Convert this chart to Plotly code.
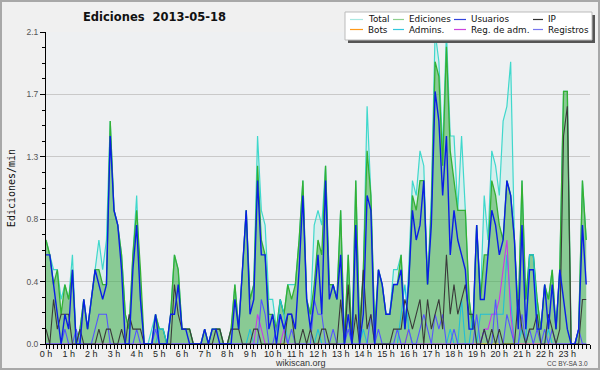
import plotly.graph_objects as go

# ---- data (edits per minute, 10-minute bins, 2013-05-18) ----
hours = [i / 6 for i in range(144)]
hour_ticks = list(range(24))
hour_labels = [f"{h} h" for h in hour_ticks]

total = [
    0.7,0.6,0.5,0.5,0.3,0.4,0.3,0.6,0.0,0.1,
    0.3,0.1,0.3,0.5,0.7,0.5,0.7,1.5,0.9,0.8,
    0.6,0.2,0.1,0.6,1.0,0.3,0.0,0.0,0.1,0.2,
    0.1,0.1,0.0,0.2,0.6,0.5,0.1,0.1,0.1,0.0,
    0.0,0.0,0.1,0.0,0.1,0.1,0.1,0.0,0.0,0.1,
    0.4,0.1,0.5,0.9,0.3,0.4,1.4,0.9,0.8,0.3,
    0.3,0.1,0.3,0.2,0.4,0.4,0.4,0.7,1.1,0.3,
    0.2,0.8,0.9,0.8,1.2,0.4,0.4,0.3,0.9,0.0,
    0.6,0.0,1.1,0.1,0.5,1.6,1.0,0.1,0.5,0.4,
    0.2,0.2,0.5,0.5,0.6,0.1,0.5,1.1,1.0,1.3,
    1.2,0.4,1.0,2.1,1.9,1.3,2.1,1.4,1.4,0.9,
    1.4,0.9,0.3,0.1,0.8,0.3,1.0,0.7,1.3,1.2,
    1.0,1.5,1.6,1.9,0.7,0.2,1.1,0.3,0.6,0.6,
    0.3,0.1,0.4,0.3,0.5,0.1,0.5,1.7,1.7,0.0,
    0.0,0.1,1.1,0.7]

ediciones = [
    0.7,0.6,0.4,0.5,0.2,0.4,0.3,0.5,0.0,0.1,
    0.3,0.1,0.3,0.5,0.5,0.4,0.4,1.5,0.9,0.8,
    0.6,0.2,0.1,0.6,0.9,0.5,0.0,0.0,0.0,0.2,
    0.1,0.1,0.0,0.2,0.6,0.5,0.1,0.1,0.1,0.0,
    0.0,0.0,0.1,0.0,0.1,0.1,0.1,0.0,0.0,0.1,
    0.4,0.1,0.5,0.9,0.3,0.4,1.2,0.7,0.6,0.2,
    0.2,0.1,0.3,0.2,0.4,0.3,0.4,0.7,1.1,0.3,
    0.2,0.4,0.7,0.6,1.2,0.4,0.4,0.3,0.9,0.0,
    0.6,0.0,1.1,0.1,0.5,1.3,1.0,0.1,0.5,0.4,
    0.2,0.2,0.4,0.4,0.6,0.1,0.4,1.0,0.9,1.1,
    1.1,0.4,0.9,1.9,1.8,1.2,2.0,1.3,1.1,0.9,
    0.9,0.9,0.3,0.1,0.8,0.3,0.6,0.6,1.1,1.0,
    0.8,0.7,1.1,1.0,0.7,0.2,1.1,0.3,0.6,0.6,
    0.3,0.1,0.4,0.3,0.5,0.1,0.5,1.7,1.7,0.0,
    0.0,0.1,1.1,0.7]

usuarios = [
    0.6,0.6,0.4,0.2,0.0,0.2,0.1,0.5,0.0,0.0,
    0.3,0.1,0.3,0.5,0.4,0.3,0.4,1.4,0.9,0.8,
    0.5,0.0,0.0,0.5,0.8,0.3,0.0,0.0,0.0,0.2,
    0.0,0.0,0.0,0.2,0.2,0.4,0.1,0.1,0.0,0.0,
    0.0,0.0,0.1,0.0,0.1,0.1,0.0,0.0,0.0,0.0,
    0.3,0.1,0.5,0.9,0.2,0.3,1.1,0.6,0.6,0.1,
    0.2,0.0,0.2,0.1,0.2,0.2,0.1,0.5,1.0,0.3,
    0.1,0.3,0.6,0.2,1.1,0.3,0.4,0.3,0.6,0.0,
    0.2,0.0,0.8,0.0,0.2,1.0,0.9,0.0,0.5,0.4,
    0.2,0.2,0.4,0.4,0.5,0.1,0.4,0.9,0.7,0.8,
    1.1,0.4,0.8,1.7,1.5,1.0,1.4,0.6,0.9,0.7,
    0.6,0.5,0.1,0.1,0.8,0.3,0.3,0.6,0.9,0.8,
    0.6,0.7,1.1,1.0,0.7,0.1,0.8,0.1,0.5,0.5,
    0.1,0.1,0.4,0.1,0.4,0.1,0.5,0.3,0.1,0.0,
    0.0,0.1,0.8,0.4]

ip = [
    0.1,0.0,0.3,0.1,0.2,0.2,0.2,0.0,0.0,0.1,
    0.0,0.0,0.0,0.0,0.1,0.0,0.1,0.1,0.0,0.0,
    0.1,0.0,0.2,0.1,0.1,0.1,0.0,0.0,0.0,0.0,
    0.0,0.0,0.0,0.0,0.4,0.2,0.1,0.1,0.1,0.0,
    0.0,0.0,0.0,0.0,0.0,0.1,0.1,0.0,0.0,0.1,
    0.1,0.1,0.0,0.0,0.0,0.1,0.1,0.0,0.0,0.0,
    0.0,0.0,0.0,0.0,0.2,0.2,0.0,0.0,0.1,0.0,
    0.1,0.0,0.0,0.1,0.1,0.0,0.0,0.0,0.3,0.0,
    0.4,0.0,0.2,0.0,0.5,0.1,0.2,0.0,0.0,0.0,
    0.0,0.0,0.1,0.1,0.1,0.3,0.2,0.1,0.2,0.3,
    0.0,0.3,0.1,0.2,0.3,0.1,0.6,0.2,0.4,0.2,
    0.3,0.4,0.2,0.2,0.0,0.0,0.1,0.0,0.1,0.0,
    0.1,0.0,0.0,0.0,0.0,0.3,0.1,0.0,0.1,0.1,
    0.2,0.0,0.0,0.2,0.1,0.0,0.1,1.4,1.6,0.0,
    0.0,0.0,0.3,0.3]

bots = [
    0,0,0,0,0,0,0,0,0,0, 0,0,0,0,0,0,0,0,0,0,
    0,0,0,0,0,0,0,0,0,0, 0,0,0,0,0,0,0,0,0,0,
    0,0,0,0,0,0,0,0,0,0, 0,0,0,0,0,0,0,0,0,0,
    0,0,0,0,0,0,0,0,0,0, 0,0,0,0,0,0,0,0,0,0,
    0,0,0,0,0,0,0,0,0,0, 0,0,0,0,0,0,0.1,0,0,0,
    0,0,0,0,0,0,0,0,0,0, 0,0,0,0,0,0,0,0,0,0,
    0,0,0,0,0,0,0,0,0,0, 0,0,0,0,0,0,0,0,0,0,
    0,0,0,0]

admins = [
    0,0,0,0,0,0,0,0,0,0, 0,0,0,0,0,0,0,0,0,0,
    0,0,0,0,0,0,0,0,0,0, 0.1,0.1,0,0,0,0,0,0,0,0,
    0,0,0,0,0,0,0,0,0,0, 0,0,0,0,0.1,0,0,0,0,0,
    0,0,0.3,0.2,0,0,0,0,0,0, 0,0,0.1,0,0,0,0,0,0,0,
    0,0,0,0,0.1,0,0,0,0,0, 0,0,0,0,0.2,0.4,0.1,0,0,0,
    0,0,0,0,0,0,0,0.1,0,0, 0.3,0,0,0.2,0,0.2,0.2,0.2,0.2,0.2,
    0.2,0.2,0.6,0.3,0,0,0.1,0,0.6,0.6, 0.2,0,0,0.1,0,0,0,0,0,0,
    0,0,0,0]

reg_adm = [
    0,0,0,0,0,0,0,0,0,0, 0,0,0,0,0,0,0,0,0,0,
    0,0,0,0,0,0,0,0,0,0, 0,0,0,0,0,0,0,0,0,0,
    0,0,0,0,0,0,0,0,0,0, 0,0,0,0,0,0,0.2,0.1,0,0,
    0,0,0,0.1,0,0,0,0,0,0, 0,0,0,0,0,0,0,0,0,0,
    0,0,0,0,0,0,0,0,0,0, 0,0,0,0,0,0,0,0,0,0,
    0,0,0,0,0,0,0,0,0,0, 0,0,0,0,0,0,0.1,0.1,0.2,0.2,
    0.3,0.5,0.7,0.2,0,0,0,0,0,0, 0,0,0,0,0,0,0,0,0,0,
    0,0,0,0]

registros = [
    0,0,0,0,0,0.1,0,0,0.1,0, 0,0,0,0.1,0.2,0.2,0.2,0,0,0,
    0,0,0,0,0.1,0,0,0,0,0.1, 0,0,0,0,0,0,0,0,0,0,
    0,0,0,0,0,0,0,0,0,0, 0,0,0,0,0,0,0,0.3,0.2,0,
    0,0.1,0.2,0.1,0,0.1,0,0,0,0, 0,0.3,0.2,0.2,0,0,0.1,0,0,0,
    0.1,0,0,0,0,0,0.2,0,0.1,0, 0,0,0,0.1,0,0,0.1,0,0,0.1,
    0.2,0.1,0,0.2,0.1,0.2,0,0,0.1,0, 0,0,0,0,0.2,0,0.1,0,0,0.3,
    0,0,0.2,0.1,0,0,0.2,0,0.1,0, 0.1,0,0.1,0,0.1,0,0,0,0,0,
    0,0.1,0,0]

y_tickvals = [0, 0.42, 0.84, 1.26, 1.68, 2.1]
y_ticktext = ["0.0", "0.4", "0.8", "1.3", "1.7", "2.1"]

# ---- figure ----
W, H = 600, 370
ML, MR, MT, MB = 46, 10, 32, 26
PW, PH = W - ML - MR, H - MT - MB

def px(x):
    return (x - ML) / PW

def py(y):
    return (H - MB - y) / PH

fig = go.Figure()

fig.add_trace(go.Scatter(x=hours, y=total, mode="lines", name="Total",
                         line=dict(color="#3fd8cc", width=1.2),
                         fill="tozeroy", fillcolor="rgba(64,224,208,0.13)"))
fig.add_trace(go.Scatter(x=hours, y=ediciones, mode="lines", name="Ediciones",
                         line=dict(color="#34b034", width=1.3),
                         fill="tozeroy", fillcolor="rgba(60,166,60,0.5)"))
fig.add_trace(go.Scatter(x=hours, y=bots, mode="lines", name="Bots",
                         line=dict(color="#ff9a1a", width=1.1)))
fig.add_trace(go.Scatter(x=hours, y=admins, mode="lines", name="Admins.",
                         line=dict(color="#20bfd8", width=1.1)))
fig.add_trace(go.Scatter(x=hours, y=reg_adm, mode="lines", name="Reg. de adm.",
                         line=dict(color="#c63be8", width=1.1)))
fig.add_trace(go.Scatter(x=hours, y=registros, mode="lines", name="Registros",
                         line=dict(color="#5555ff", width=1.1)))
fig.add_trace(go.Scatter(x=hours, y=ip, mode="lines", name="IP",
                         line=dict(color="#3a3a3a", width=1.1)))
fig.add_trace(go.Scatter(x=hours, y=usuarios, mode="lines", name="Usuarios",
                         line=dict(color="#0a1ee6", width=1.4)))

shapes = []
annotations = []

# outer border
shapes.append(dict(type="rect", xref="paper", yref="paper",
                   x0=px(1), x1=px(599), y0=py(369), y1=py(1),
                   line=dict(color="#a8a8a8", width=2), layer="below"))

# legend box with shadow
lx0, lx1, ly0, ly1 = 345, 592, 12, 40
shapes.append(dict(type="rect", xref="paper", yref="paper",
                   x0=px(lx0 + 3), x1=px(lx1 + 3), y0=py(ly1 + 3), y1=py(ly0 + 3),
                   fillcolor="#555555", line=dict(width=0), layer="above"))
shapes.append(dict(type="rect", xref="paper", yref="paper",
                   x0=px(lx0), x1=px(lx1), y0=py(ly1), y1=py(ly0),
                   fillcolor="#ffffff", line=dict(color="#bbbbbb", width=1), layer="above"))

legend_items = [
    ("Total", "#a8e8e2", 350, 363, 366, 19.5),
    ("Ediciones", "#8fd08f", 393, 404, 407, 19.5),
    ("Usuarios", "#3344dd", 454, 466, 469, 19.5),
    ("IP", "#333333", 533, 543, 546, 19.5),
    ("Bots", "#ff9a1a", 350, 363, 366, 29.5),
    ("Admins.", "#33c8dd", 393, 404, 407, 29.5),
    ("Reg. de adm.", "#cc44dd", 454, 466, 469, 29.5),
    ("Registros", "#7777ee", 533, 543, 546, 29.5),
]
for name, col, a, b, tx, yy in legend_items:
    shapes.append(dict(type="line", xref="paper", yref="paper",
                       x0=px(a), x1=px(b), y0=py(yy), y1=py(yy),
                       line=dict(color=col, width=1.2), layer="above"))
    annotations.append(dict(text=name, xref="paper", yref="paper",
                            x=px(tx), y=py(yy), xanchor="left", yanchor="middle",
                            showarrow=False,
                            font=dict(family="DejaVu Sans", size=8.8, color="#111")))

# title
annotations.append(dict(text="<b>Ediciones  2013-05-18</b>", xref="paper", yref="paper",
                        x=px(154), y=py(17), xanchor="center", yanchor="middle",
                        showarrow=False,
                        font=dict(family="DejaVu Sans", size=11.5, color="#111")))
# footer
annotations.append(dict(text="wikiscan.org", xref="paper", yref="paper",
                        x=px(300), y=py(363), xanchor="center", yanchor="middle",
                        showarrow=False,
                        font=dict(family="Liberation Sans", size=9, color="#333")))
annotations.append(dict(text="CC BY-SA 3.0", xref="paper", yref="paper",
                        x=px(590), y=py(363), xanchor="right", yanchor="middle",
                        showarrow=False,
                        font=dict(family="Liberation Sans", size=6.5, color="#444")))

fig.update_layout(
    width=W, height=H,
    margin=dict(l=ML, r=MR, t=MT, b=MB, pad=0),
    paper_bgcolor="#f0f0f0",
    plot_bgcolor="#eef0f2",
    showlegend=False,
    hovermode=False,
    shapes=shapes,
    annotations=annotations,
    xaxis=dict(range=[0, 24], tickvals=hour_ticks, ticktext=hour_labels,
               showgrid=False, zeroline=False, showline=True, linecolor="#000",
               linewidth=1, ticks="outside", ticklen=4, tickcolor="#000",
               ticklabelstandoff=-3,
               tickfont=dict(family="Liberation Sans", size=9, color="#222"),
               minor=dict(dtick=1/6, tick0=0, ticks="outside", ticklen=4,
                          tickcolor="#000", showgrid=False)),
    yaxis=dict(range=[0, 2.1], tickvals=y_tickvals, ticktext=y_ticktext,
               showgrid=True, gridcolor="#c9c9c9", gridwidth=1, zeroline=False,
               showline=True, linecolor="#000", linewidth=1,
               ticks="outside", ticklen=5, tickcolor="#000",
               tickfont=dict(family="Liberation Sans", size=8.5, color="#555"),
               title=dict(text="Ediciones/min", standoff=8,
                          font=dict(family="DejaVu Sans Mono", size=10, color="#111")),
               minor=dict(dtick=0.105, tick0=0, ticks="outside", ticklen=3,
                          tickcolor="#000", showgrid=False)),
)

fig.write_html("out.html", config={"displayModeBar": False, "staticPlot": True},
               post_script="document.body.style.margin='0px';document.body.style.padding='0px';")
